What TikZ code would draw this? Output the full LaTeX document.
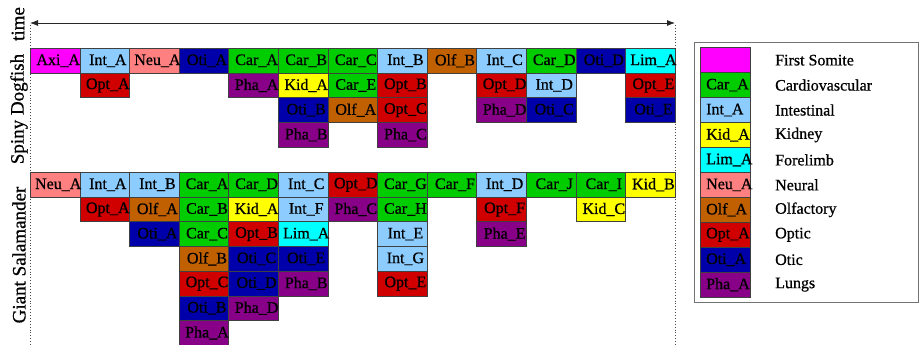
\documentclass[tikz,border=0pt]{standalone}
\usepackage{fontspec}
\setmainfont{Liberation Serif}
\newfontfamily\heavy{Liberation Serif}[FakeBold=0.7]
\usetikzlibrary{arrows.meta}
\definecolor{colAxi}{HTML}{FF00FF}
\definecolor{colCar}{HTML}{00CC00}
\definecolor{colInt}{HTML}{8CCCFF}
\definecolor{colKid}{HTML}{FFFF00}
\definecolor{colLim}{HTML}{00FFFF}
\definecolor{colNeu}{HTML}{FF8080}
\definecolor{colOlf}{HTML}{C06000}
\definecolor{colOpt}{HTML}{D00000}
\definecolor{colOti}{HTML}{0000AA}
\definecolor{colPha}{HTML}{880088}
\def\dogList{0/0/Axi/A, 1/0/Int/A, 1/1/Opt/A, 2/0/Neu/A, 3/0/Oti/A,
 4/0/Car/A, 4/1/Pha/A, 5/0/Car/B, 5/1/Kid/A, 5/2/Oti/B, 5/3/Pha/B,
 6/0/Car/C, 6/1/Car/E, 6/2/Olf/A, 7/0/Int/B, 7/1/Opt/B, 7/2/Opt/C, 7/3/Pha/C,
 8/0/Olf/B, 9/0/Int/C, 9/1/Opt/D, 9/2/Pha/D, 10/0/Car/D, 10/1/Int/D, 10/2/Oti/C,
 11/0/Oti/D, 12/0/Lim/A, 12/1/Opt/E, 12/2/Oti/E}
\def\salList{0/0/Neu/A, 1/0/Int/A, 1/1/Opt/A, 2/0/Int/B, 2/1/Olf/A, 2/2/Oti/A,
 3/0/Car/A, 3/1/Car/B, 3/2/Car/C, 3/3/Olf/B, 3/4/Opt/C, 3/5/Oti/B, 3/6/Pha/A,
 4/0/Car/D, 4/1/Kid/A, 4/2/Opt/B, 4/3/Oti/C, 4/4/Oti/D, 4/5/Pha/D,
 5/0/Int/C, 5/1/Int/F, 5/2/Lim/A, 5/3/Oti/E, 5/4/Pha/B,
 6/0/Opt/D, 6/1/Pha/C, 7/0/Car/G, 7/1/Car/H, 7/2/Int/E, 7/3/Int/G, 7/4/Opt/E,
 8/0/Car/F, 9/0/Int/D, 9/1/Opt/F, 9/2/Pha/E, 10/0/Car/J, 11/0/Car/I, 11/1/Kid/C, 12/0/Kid/B}
\begin{document}
\begin{tikzpicture}[x=1pt,y=-1pt,
  cellbox/.style={draw=black!75, line width=0.8pt, minimum width=49.6pt, minimum height=24.7pt, inner sep=0pt, anchor=north west},
  celltext/.style={font=\heavy\fontsize{16}{18}\selectfont, inner sep=0pt},
  sidetext/.style={font=\heavy\fontsize{19}{22}\selectfont, rotate=90, inner sep=0pt},
  legtext/.style={font=\heavy\fontsize{16}{18}\selectfont, inner sep=0pt, anchor=west},
  guide/.style={dotted, line width=0.9pt, black!70}]
\useasboundingbox (0,0) rectangle (920,345);
% time axis
\coordinate (tl) at (30,23);
\coordinate (tr) at (675,23);
\coordinate (gl1) at (30,25);
\coordinate (gl2) at (30,345);
\coordinate (gr1) at (675,25);
\coordinate (gr2) at (675,345);
\draw[guide] (gl1) -- (gl2);
\draw[guide] (gr1) -- (gr2);
\draw[{Latex[length=8pt,width=6pt]}-{Latex[length=8pt,width=6pt]}, line width=0.8pt, black!85] (tl) -- (tr);
\node[sidetext] (time) at (18,24) {time};
\node[sidetext] (dog) at (19,109) {Spiny Dogfish};
\node[sidetext] (sal) at (19,255) {Giant Salamander};
% dogfish
\foreach \c/\r/\a/\b in \dogList {
  \node[cellbox, fill=col\a] (d\a\b) at ({30+49.6*\c},{48+24.7*\r}) {};
}
\foreach \c/\r/\a/\b in \dogList {
  \node[celltext] at ([xshift=3pt]d\a\b.center) {\a\_\b};
}
% salamander
\foreach \c/\r/\a/\b in \salList {
  \node[cellbox, fill=col\a] (s\a\b) at ({30+49.6*\c},{172+24.7*\r}) {};
}
\foreach \c/\r/\a/\b in \salList {
  \node[celltext] at ([xshift=3pt]s\a\b.center) {\a\_\b};
}
% legend
\node[draw=black!55, line width=1pt, minimum width=224pt, minimum height=260pt, inner sep=0pt, anchor=north west] (legend) at (694,42) {};
\foreach \i/\a/\t in {0/Axi/First Somite, 1/Car/Cardiovascular, 2/Int/Intestinal, 3/Kid/Kidney, 4/Lim/Forelimb, 5/Neu/Neural, 6/Olf/Olfactory, 7/Opt/Optic, 8/Oti/Otic, 9/Pha/Lungs} {
  \node[cellbox, fill=col\a, minimum width=50pt, minimum height=24.94pt] (l\a) at (700,{47.3+24.94*\i}) {};
  \node[legtext] at ([xshift=75pt]l\a.west) {\t};
}
\foreach \a in {Car,Int,Kid,Lim,Neu,Olf,Opt,Oti,Pha} {
  \node[legtext] at ([xshift=6pt]l\a.west) {\a\_A};
}
\end{tikzpicture}
\end{document}
